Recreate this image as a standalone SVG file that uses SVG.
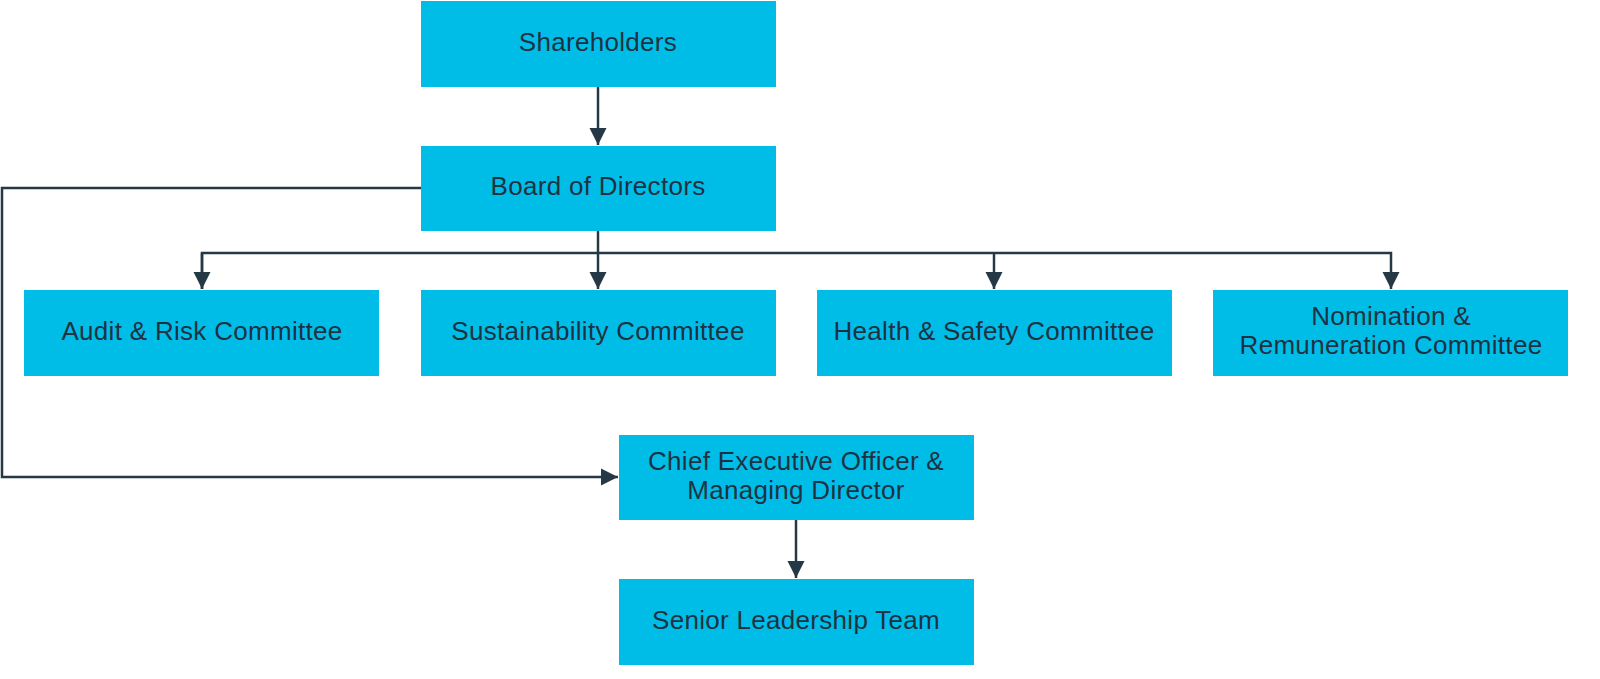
<svg xmlns="http://www.w3.org/2000/svg" width="1600" height="679" viewBox="0 0 1600 679">
<style>
.box{fill:#00BDE8}
.t{font-family:"Liberation Sans",Arial,sans-serif;font-size:26px;letter-spacing:0.3px;fill:#1E3242;text-anchor:middle;dominant-baseline:middle}
.c{fill:none;stroke:#243845;stroke-width:2.5}
</style>
<defs><marker id="a" viewBox="0 0 10 10" refX="10" refY="5" markerWidth="7" markerHeight="7" orient="auto" markerUnits="strokeWidth"><path d="M0,0L10,5L0,10z" fill="#243845"/></marker></defs>
<rect width="1600" height="679" fill="#fff"/>
<g id="connectors">
<path class="c" d="M598,87V145" marker-end="url(#a)"/>
<path class="c" d="M598,231V289" marker-end="url(#a)"/>
<path class="c" d="M202,289V253H1391V289" marker-end="url(#a)"/>
<path class="c" d="M202,253V289" marker-end="url(#a)"/>
<path class="c" d="M994,253V289" marker-end="url(#a)"/>
<path class="c" d="M421,188H2V477H618" marker-end="url(#a)"/>
<path class="c" d="M796,520V578" marker-end="url(#a)"/>
</g>
<g id="shareholders"><rect class="box" x="421" y="1" width="355" height="86"/><text class="t" x="598" y="44">Shareholders</text></g>
<g id="board"><rect class="box" x="421" y="146" width="355" height="85"/><text class="t" x="598" y="188">Board of Directors</text></g>
<g id="audit"><rect class="box" x="24" y="290" width="355" height="86"/><text class="t" x="202" y="333">Audit &amp; Risk Committee</text></g>
<g id="sustainability"><rect class="box" x="421" y="290" width="355" height="86"/><text class="t" x="598" y="333">Sustainability Committee</text></g>
<g id="health"><rect class="box" x="817" y="290" width="355" height="86"/><text class="t" x="994" y="333">Health &amp; Safety Committee</text></g>
<g id="nomination"><rect class="box" x="1213" y="290" width="355" height="86"/><text class="t" x="1391" y="318">Nomination &amp;</text><text class="t" x="1391" y="347">Remuneration Committee</text></g>
<g id="ceo"><rect class="box" x="619" y="435" width="355" height="85"/><text class="t" x="796" y="463">Chief Executive Officer &amp;</text><text class="t" x="796" y="492">Managing Director</text></g>
<g id="slt"><rect class="box" x="619" y="579" width="355" height="86"/><text class="t" x="796" y="622">Senior Leadership Team</text></g>
</svg>
